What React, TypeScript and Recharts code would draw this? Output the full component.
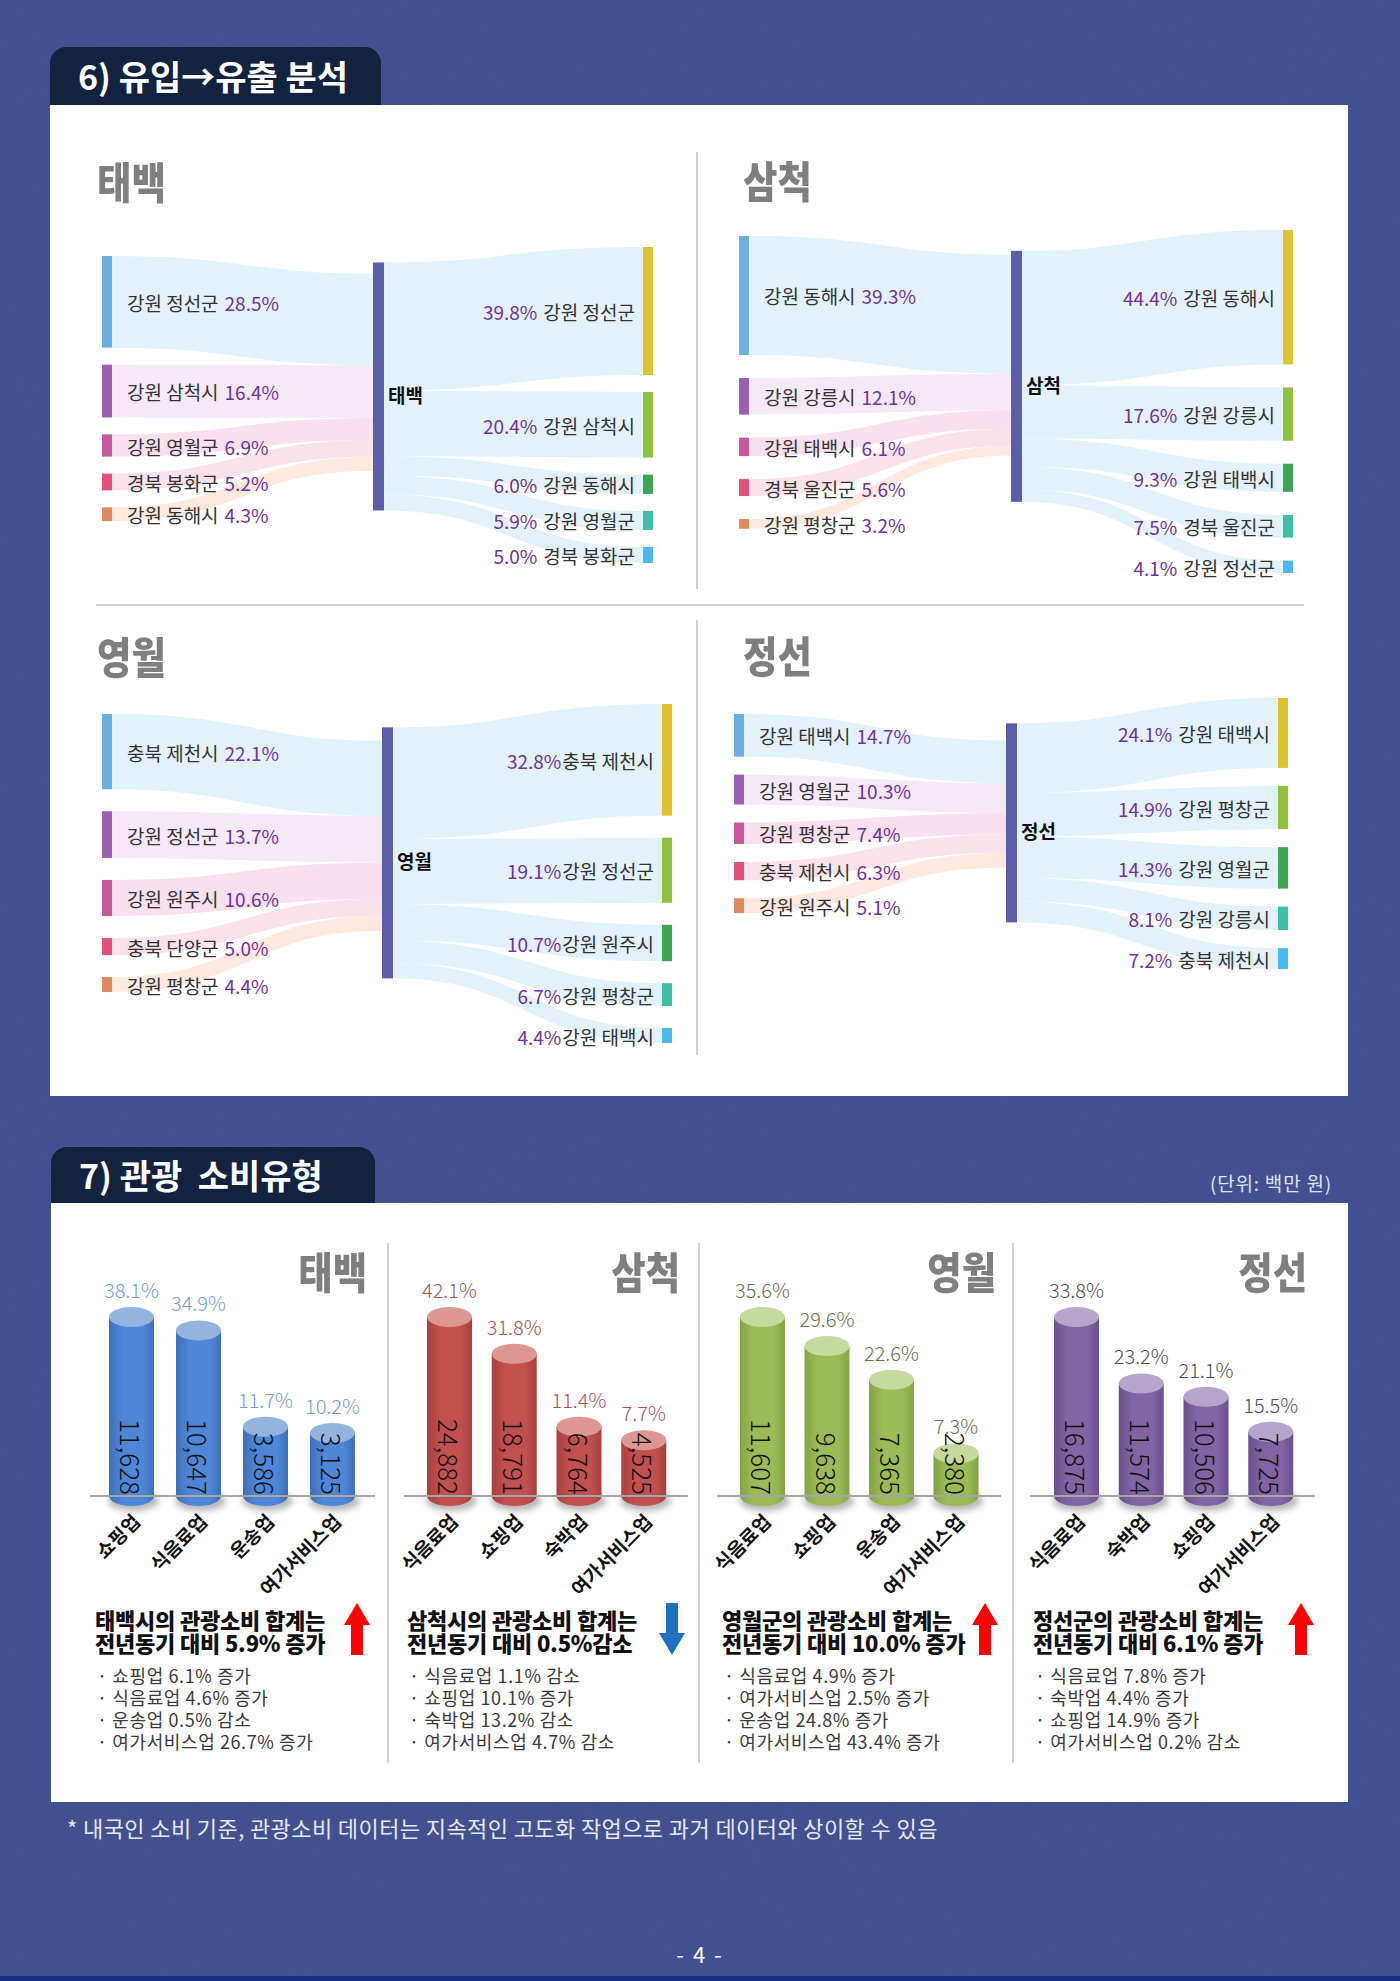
import React from 'react';
import { Sankey, BarChart, Bar, XAxis, YAxis } from 'recharts';

const FONT = '"Noto Sans CJK KR", "Noto Sans", sans-serif';

// ── 6) 유입→유출 : inflow origins / outflow destinations (share, %)
const taebaekFrom = ['강원 정선군', '강원 삼척시', '강원 영월군', '경북 봉화군', '강원 동해시'];
const taebaekFromShare = [28.5, 16.4, 6.9, 5.2, 4.3];
const taebaekTo = ['강원 정선군', '강원 삼척시', '강원 동해시', '강원 영월군', '경북 봉화군'];
const taebaekToShare = [39.8, 20.4, 6.0, 5.9, 5.0];

const samcheokFrom = ['강원 동해시', '강원 강릉시', '강원 태백시', '경북 울진군', '강원 평창군'];
const samcheokFromShare = [39.3, 12.1, 6.1, 5.6, 3.2];
const samcheokTo = ['강원 동해시', '강원 강릉시', '강원 태백시', '경북 울진군', '강원 정선군'];
const samcheokToShare = [44.4, 17.6, 9.3, 7.5, 4.1];

const yeongwolFrom = ['충북 제천시', '강원 정선군', '강원 원주시', '충북 단양군', '강원 평창군'];
const yeongwolFromShare = [22.1, 13.7, 10.6, 5.0, 4.4];
const yeongwolTo = ['충북 제천시', '강원 정선군', '강원 원주시', '강원 평창군', '강원 태백시'];
const yeongwolToShare = [32.8, 19.1, 10.7, 6.7, 4.4];

const jeongseonFrom = ['강원 태백시', '강원 영월군', '강원 평창군', '충북 제천시', '강원 원주시'];
const jeongseonFromShare = [14.7, 10.3, 7.4, 6.3, 5.1];
const jeongseonTo = ['강원 태백시', '강원 평창군', '강원 영월군', '강원 강릉시', '충북 제천시'];
const jeongseonToShare = [24.1, 14.9, 14.3, 8.1, 7.2];

// ── 7) 관광 소비유형 : spending by industry (백만 원) and its share (%)
const taebaekCats = ['쇼핑업', '식음료업', '운송업', '여가서비스업'];
const taebaekSpend = [11628, 10647, 3586, 3125];
const taebaekSpendShare = [38.1, 34.9, 11.7, 10.2];

const samcheokCats = ['식음료업', '쇼핑업', '숙박업', '여가서비스업'];
const samcheokSpend = [24882, 18791, 6764, 4525];
const samcheokSpendShare = [42.1, 31.8, 11.4, 7.7];

const yeongwolCats = ['식음료업', '쇼핑업', '운송업', '여가서비스업'];
const yeongwolSpend = [11607, 9638, 7365, 2380];
const yeongwolSpendShare = [35.6, 29.6, 22.6, 7.3];

const jeongseonCats = ['식음료업', '숙박업', '쇼핑업', '여가서비스업'];
const jeongseonSpend = [16875, 11574, 10506, 7725];
const jeongseonSpendShare = [33.8, 23.2, 21.1, 15.5];

const summaryHeads = [
  ['태백시의 관광소비 합계는', '전년동기 대비 5.9% 증가'],
  ['삼척시의 관광소비 합계는', '전년동기 대비 0.5%감소'],
  ['영월군의 관광소비 합계는', '전년동기 대비 10.0% 증가'],
  ['정선군의 관광소비 합계는', '전년동기 대비 6.1% 증가'],
];
const summaryTrend = ['up', 'down', 'up', 'up'];
const summaryItems = [
  ['쇼핑업 6.1% 증가', '식음료업 4.6% 증가', '운송업 0.5% 감소', '여가서비스업 26.7% 증가'],
  ['식음료업 1.1% 감소', '쇼핑업 10.1% 증가', '숙박업 13.2% 감소', '여가서비스업 4.7% 감소'],
  ['식음료업 4.9% 증가', '여가서비스업 2.5% 증가', '운송업 24.8% 증가', '여가서비스업 43.4% 증가'],
  ['식음료업 7.8% 증가', '숙박업 4.4% 증가', '쇼핑업 14.9% 증가', '여가서비스업 0.2% 감소'],
];

// palettes
const sourceColors = ['#6aafe0', '#9b5fb5', '#c9579b', '#e44f7a', '#dc8a5e'];
const sourceTints = ['#e3f1fb', '#f5e9f7', '#f8e0ee', '#fae2ea', '#fde9df'];
const targetColors = ['#dfc230', '#8dc13f', '#3ea653', '#3dbfa6', '#4cb9ee'];
const targetTint = '#e3f1fb';
const hubColor = '#5b5ea6';
const PCT = '#7030a0';

type Tone = { body: string; edge: string; cap: string; pct: string };
const blueTone: Tone = { body: '#4f87d6', edge: '#3d70bb', cap: '#94b3df', pct: '#6e9ee0' };
const redTone: Tone = { body: '#c2504e', edge: '#a7403e', cap: '#dc9694', pct: '#b0504e' };
const greenTone: Tone = { body: '#9cbb58', edge: '#84a344', cap: '#c6d99e', pct: '#6b7145' };
const purpleTone: Tone = { body: '#8064a3', edge: '#6a508e', cap: '#b5a4cb', pct: '#505050' };

const NODE_W = 10;
const EDGE = 20; // room above/below the flows so edge labels are not clipped
const total = (a: number[]) => a.reduce((s, v) => s + v, 0);

type FlowProps = {
  city: string;
  from: string[];
  fromShare: number[];
  to: string[];
  toShare: number[];
  leftX: number;
  rightEnd: number;
  inTop: number;
  outTop: number;
  height: number;
  padding: number;
  spaced: boolean;
};

// Each city is drawn as two sankeys sharing one scale: origins → city, city → destinations
function FlowDiagram({ city, from, fromShare, to, toShare, leftX, rightEnd, inTop, outTop, height, padding, spaced }: FlowProps) {
  const hubX = Math.round((leftX + rightEnd - NODE_W) / 2);
  const ky = (height - (to.length - 1) * padding) / total(toShare);
  const inHeight = total(fromShare) * ky + (from.length - 1) * padding;
  const n = from.length;

  const inflow = {
    nodes: [...from.map((name) => ({ name })), { name: city }],
    links: fromShare.map((value, i) => ({ source: i, target: n, value })),
  };
  const outflow = {
    nodes: [{ name: city }, ...to.map((name) => ({ name }))],
    links: toShare.map((value, j) => ({ source: 0, target: 1 + j, value })),
  };

  const renderInNode = (p: any) => {
    const { x, y, width: w, height: h, index, payload } = p;
    if (index >= n) return <g />;
    return (
      <g>
        <rect x={x} y={y} width={w} height={h} fill={sourceColors[index]} />
        <text x={x + w + 15} y={y + h / 2} dominantBaseline="central" fontSize={19} fontFamily={FONT}>
          <tspan fill="#333">{payload.name}</tspan>
          <tspan fill={PCT} dx={6}>{`${payload.value.toFixed(1)}%`}</tspan>
        </text>
      </g>
    );
  };

  const renderOutNode = (p: any) => {
    const { x, y, width: w, height: h, index, payload } = p;
    const cy = y + h / 2;
    if (index === 0) {
      return (
        <g>
          <rect x={x - 1} y={y} width={w + 2} height={h} fill={hubColor} />
          <text x={x + w + 5} y={cy + 8} dominantBaseline="central" fontSize={19} fontWeight={700} fill="#111" fontFamily={FONT}>
            {payload.name}
          </text>
        </g>
      );
    }
    return (
      <g>
        <rect x={x} y={y} width={w} height={h} fill={targetColors[index - 1]} />
        <text x={x - 8} y={cy} textAnchor="end" dominantBaseline="central" fontSize={19} fontFamily={FONT}>
          <tspan fill={PCT}>{`${payload.value.toFixed(1)}%`}</tspan>
          <tspan fill="#333" dx={spaced ? 6 : 1}>{payload.name}</tspan>
        </text>
      </g>
    );
  };

  const linkPath = (p: any, color: string) => {
    const { sourceX, sourceY, sourceControlX, targetX, targetY, targetControlX, linkWidth } = p;
    return (
      <path
        d={`M${sourceX},${sourceY}C${sourceControlX},${sourceY} ${targetControlX},${targetY} ${targetX},${targetY}`}
        fill="none"
        stroke={color}
        strokeWidth={linkWidth}
      />
    );
  };

  const margin = { top: EDGE, right: 0, bottom: EDGE, left: 0 };
  return (
    <>
      <div style={{ position: 'absolute', left: leftX, top: inTop - EDGE }}>
        <Sankey
          width={hubX + NODE_W - leftX}
          height={inHeight + 2 * EDGE}
          data={inflow}
          margin={margin}
          nodeWidth={NODE_W}
          nodePadding={padding}
          sort={false}
          node={renderInNode}
          link={(p: any) => linkPath(p, sourceTints[p.index] ?? targetTint)}
        />
      </div>
      <div style={{ position: 'absolute', left: hubX, top: outTop - EDGE }}>
        <Sankey
          width={rightEnd - hubX}
          height={height + 2 * EDGE}
          data={outflow}
          margin={margin}
          nodeWidth={NODE_W}
          nodePadding={padding}
          sort={false}
          node={renderOutNode}
          link={(p: any) => linkPath(p, targetTint)}
        />
      </div>
    </>
  );
}

function cylinder(tone: Tone, key: string) {
  return (p: any) => {
    const { x, y, width, height, background, payload, index } = p;
    const rx = width / 2;
    const ry = 10;
    const cx = x + rx;
    const floor = background ? background.y + background.height : y + height;
    const gid = `${key}-body-${index}`;
    const sid = `${key}-shade-${index}`;
    return (
      <g>
        <defs>
          <linearGradient id={gid} x1="0" x2="1" y1="0" y2="0">
            <stop offset="0" stopColor={tone.edge} />
            <stop offset="0.3" stopColor={tone.body} />
            <stop offset="0.75" stopColor={tone.body} />
            <stop offset="1" stopColor={tone.edge} />
          </linearGradient>
          <filter id={sid} x="-50%" y="-100%" width="200%" height="300%">
            <feGaussianBlur stdDeviation="3" />
          </filter>
        </defs>
        <ellipse cx={cx + 2} cy={floor + 5} rx={rx + 3} ry={ry} fill="#000" opacity={0.28} filter={`url(#${sid})`} />
        <path d={`M${x},${y}V${floor}A${rx},${ry} 0 0 0 ${x + width},${floor}V${y}Z`} fill={`url(#${gid})`} />
        <ellipse cx={cx} cy={y} rx={rx} ry={ry} fill={tone.cap} />
        <text
          transform={`translate(${cx},${floor - 1}) rotate(90)`}
          textAnchor="end"
          dominantBaseline="central"
          fontSize={26}
          fontWeight={300}
          fill="#111"
          fontFamily={FONT}
        >
          {payload.value.toLocaleString('en-US')}
        </text>
        <text x={cx} y={y - ry - 9} textAnchor="middle" fontSize={20} fontWeight={300} fill={tone.pct} fontFamily={FONT}>
          {payload.share.toFixed(1)}%
        </text>
      </g>
    );
  };
}

const CategoryTick = (p: any) => {
  const { x, y, payload } = p;
  return (
    <text
      transform={`translate(${x + 10},${y + 25}) rotate(-45)`}
      textAnchor="end"
      fontSize={19}
      fontWeight={700}
      fill="#111"
      fontFamily={FONT}
    >
      {payload.value}
    </text>
  );
};

type SpendProps = {
  id: string;
  cats: string[];
  values: number[];
  shares: number[];
  tone: Tone;
  left: number;
  width: number;
  padL: number;
  padR: number;
  floor: number;
};

function SpendChart({ id, cats, values, shares, tone, left, width, padL, padR, floor }: SpendProps) {
  const rows = cats.map((name, i) => ({ name, value: values[i], share: shares[i] }));
  return (
    <div style={{ position: 'absolute', left: left - 20, top: 1240 }}>
      <BarChart width={width + 20} height={381} data={rows} margin={{ top: 77, right: 0, bottom: 0, left: 20 }}>
        <XAxis
          dataKey="name"
          height={125}
          interval={0}
          tickLine={false}
          tickSize={0}
          axisLine={{ stroke: '#a6a6a6', strokeWidth: 2 }}
          padding={{ left: padL, right: padR }}
          tick={<CategoryTick />}
        />
        <YAxis hide type="number" domain={[floor, 'dataMax']} />
        <Bar dataKey="value" barSize={45} isAnimationActive={false} shape={cylinder(tone, id)} />
      </BarChart>
    </div>
  );
}

function CityTitle({ text, x, glyphTop, anchor }: { text: string; x: number; glyphTop: number; anchor: 'left' | 'right' }) {
  const fs = 43;
  return (
    <div
      style={{
        position: 'absolute',
        top: glyphTop - fs * 0.1,
        left: anchor === 'left' ? x : undefined,
        right: anchor === 'right' ? 1400 - x : undefined,
        fontSize: fs,
        lineHeight: 1,
        fontWeight: 900,
        color: '#7f7f7f',
        transform: 'scaleX(0.87)',
        transformOrigin: anchor === 'left' ? 'left top' : 'right top',
        whiteSpace: 'nowrap',
      }}
    >
      {text}
    </div>
  );
}

function Arrow({ x, dir }: { x: number; dir: string }) {
  const up = dir === 'up';
  const pts = up
    ? '13,0 26,22 19,22 19,52 7,52 7,22 0,22'
    : '7,0 19,0 19,30 26,30 13,52 0,30 7,30';
  return (
    <svg width={26} height={52} style={{ position: 'absolute', left: x, top: 1603 }}>
      <polygon points={pts} fill={up ? '#ff0000' : '#1f6fc0'} />
    </svg>
  );
}

const flowFrames = [
  { city: '태백', from: taebaekFrom, fromShare: taebaekFromShare, to: taebaekTo, toShare: taebaekToShare, leftX: 102, rightEnd: 653, inTop: 256, outTop: 247, height: 316, padding: 17, spaced: true },
  { city: '삼척', from: samcheokFrom, fromShare: samcheokFromShare, to: samcheokTo, toShare: samcheokToShare, leftX: 739, rightEnd: 1293, inTop: 236, outTop: 230, height: 343, padding: 23, spaced: true },
  { city: '영월', from: yeongwolFrom, fromShare: yeongwolFromShare, to: yeongwolTo, toShare: yeongwolToShare, leftX: 102, rightEnd: 672, inTop: 714, outTop: 704, height: 339, padding: 22, spaced: false },
  { city: '정선', from: jeongseonFrom, fromShare: jeongseonFromShare, to: jeongseonTo, toShare: jeongseonToShare, leftX: 734, rightEnd: 1288, inTop: 714, outTop: 698, height: 271, padding: 18, spaced: true },
];

const spendFrames = [
  { id: 'tb', cats: taebaekCats, values: taebaekSpend, shares: taebaekSpendShare, tone: blueTone, left: 90, width: 285, padL: 8, padR: 9, floor: -1500 },
  { id: 'sc', cats: samcheokCats, values: samcheokSpend, shares: samcheokSpendShare, tone: redTone, left: 404, width: 284, padL: 13, padR: 12, floor: -4700 },
  { id: 'yw', cats: yeongwolCats, values: yeongwolSpend, shares: yeongwolSpendShare, tone: greenTone, left: 717, width: 284, padL: 13, padR: 13, floor: -500 },
  { id: 'js', cats: jeongseonCats, values: jeongseonSpend, shares: jeongseonSpendShare, tone: purpleTone, left: 1030, width: 285, padL: 14, padR: 12, floor: 2600 },
];

const spendTitles = [
  { text: '태백', x: 367 },
  { text: '삼척', x: 680 },
  { text: '영월', x: 996 },
  { text: '정선', x: 1307 },
];
const summaryX = [95, 407, 722, 1033];
const arrowX = [344, 659, 972, 1288];

const tabStyle: React.CSSProperties = {
  position: 'absolute',
  background: '#13233f',
  borderRadius: '16px 16px 0 0',
  color: '#fff',
  fontWeight: 700,
  fontSize: 34,
  boxSizing: 'border-box',
  paddingLeft: 28,
  whiteSpace: 'nowrap',
};

export default function App() {
  return (
    <div
      style={{
        position: 'absolute',
        left: 0,
        top: 0,
        width: 1400,
        height: 1981,
        overflow: 'hidden',
        background: '#3f4c8e',
        fontFamily: FONT,
      }}
    >
      {/* paper grain on the page background */}
      <svg width={1400} height={1981} style={{ position: 'absolute', left: 0, top: 0 }}>
        <filter id="grain">
          <feTurbulence type="fractalNoise" baseFrequency="0.7" numOctaves={3} seed={4} />
          <feColorMatrix type="saturate" values="0" />
        </filter>
        <rect width={1400} height={1981} filter="url(#grain)" opacity={0.07} />
        <rect x={0} y={1976} width={1400} height={5} fill="#1c2d84" />
      </svg>

      {/* section 6 */}
      <div style={{ ...tabStyle, left: 50, top: 47, width: 331, height: 58, lineHeight: '58px' }}>6) 유입→유출 분석</div>
      <div style={{ position: 'absolute', left: 50, top: 105, width: 1298, height: 991, background: '#fff' }} />
      <div style={{ position: 'absolute', left: 696, top: 152, width: 2, height: 437, background: '#cfcfcf' }} />
      <div style={{ position: 'absolute', left: 96, top: 604, width: 1208, height: 2, background: '#cfcfcf' }} />
      <div style={{ position: 'absolute', left: 696, top: 620, width: 2, height: 435, background: '#cfcfcf' }} />

      <CityTitle text="태백" x={97} glyphTop={163} anchor="left" />
      <CityTitle text="삼척" x={743} glyphTop={162} anchor="left" />
      <CityTitle text="영월" x={97} glyphTop={638} anchor="left" />
      <CityTitle text="정선" x={743} glyphTop={637} anchor="left" />

      {flowFrames.map((f) => (
        <FlowDiagram key={f.city} {...f} />
      ))}

      {/* section 7 */}
      <div style={{ ...tabStyle, left: 51, top: 1147, width: 324, height: 56, lineHeight: '56px' }}>7) 관광&nbsp; 소비유형</div>
      <div style={{ position: 'absolute', right: 68, top: 1170, fontSize: 19, lineHeight: '26px', letterSpacing: 0.8, color: '#dfe3f1' }}>(단위: 백만 원)</div>
      <div style={{ position: 'absolute', left: 51, top: 1203, width: 1297, height: 599, background: '#fff' }} />
      {[387, 698, 1012].map((x) => (
        <div key={x} style={{ position: 'absolute', left: x, top: 1243, width: 2, height: 520, background: '#d2d2d2' }} />
      ))}

      {spendFrames.map((s) => (
        <SpendChart key={s.id} {...s} />
      ))}
      {spendTitles.map((t) => (
        <CityTitle key={t.text + t.x} text={t.text} x={t.x} glyphTop={1253} anchor="right" />
      ))}

      {summaryHeads.map((lines, i) => (
        <div key={i}>
          <div
            style={{
              position: 'absolute',
              left: summaryX[i],
              top: 1608,
              fontSize: 22,
              lineHeight: '23px',
              fontWeight: 900,
              letterSpacing: -0.2,
              color: '#111',
              whiteSpace: 'nowrap',
            }}
          >
            {lines[0]}
            <br />
            {lines[1]}
          </div>
          <Arrow x={arrowX[i]} dir={summaryTrend[i]} />
          <div
            style={{
              position: 'absolute',
              left: summaryX[i] + 2,
              top: 1664,
              fontSize: 18,
              lineHeight: '22px',
              letterSpacing: 0.6,
              color: '#3a3a3a',
              whiteSpace: 'nowrap',
            }}
          >
            {summaryItems[i].map((t) => (
              <div key={t}>· {t}</div>
            ))}
          </div>
        </div>
      ))}

      <div style={{ position: 'absolute', left: 67, top: 1814, fontSize: 22, lineHeight: '26px', letterSpacing: 0.4, color: '#e6e8f2', whiteSpace: 'nowrap' }}>
        * 내국인 소비 기준, 관광소비 데이터는 지속적인 고도화 작업으로 과거 데이터와 상이할 수 있음
      </div>
      <div style={{ position: 'absolute', left: 0, width: 1400, top: 1939, textAlign: 'center', fontSize: 22, lineHeight: '28px', letterSpacing: 2, color: '#fff' }}>
        - 4 -
      </div>
    </div>
  );
}
